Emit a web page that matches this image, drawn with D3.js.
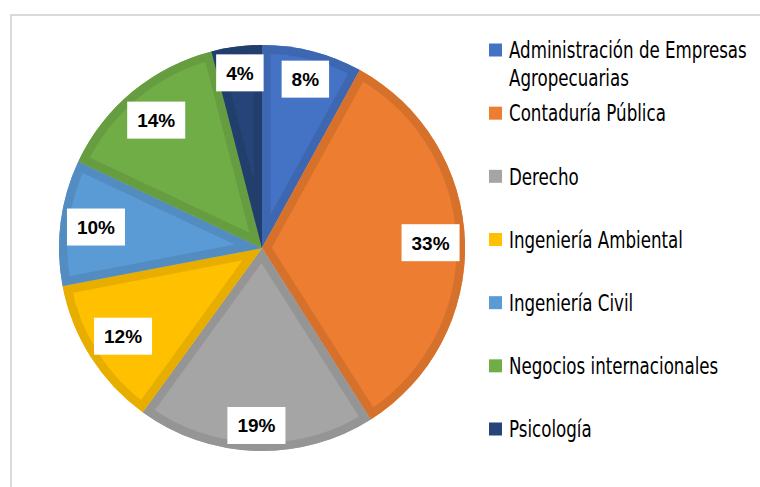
<!DOCTYPE html>
<html lang="es">
<head>
<meta charset="utf-8">
<title>Programas</title>
<script src="https://cdn.jsdelivr.net/npm/d3@7/dist/d3.min.js"></script>
<style>
  body { margin: 0; background: #fff; }
  svg { display: block; }
</style>
</head>
<body>
<div id="chart"></div>
<script>

// data
var categories = [
  "Administración de Empresas Agropecuarias",
  "Contaduría Pública",
  "Derecho",
  "Ingeniería Ambiental",
  "Ingeniería Civil",
  "Negocios internacionales",
  "Psicología"
];
var shares = [8, 33, 19, 12, 10, 14, 4];
var palette = ["#4472C4", "#ED7D31", "#A5A5A5", "#FFC000", "#5B9BD5", "#70AD47", "#264478"];

var width = 760;
var height = 487;
var cx = 262, cy = 248, radius = 203;

var svg = d3.select("#chart").append("svg")
        .attr("width", width)
        .attr("height", height);

// chart frame (runs off the right and bottom edges)
svg.append("rect")
        .attr("x", 11).attr("y", 15)
        .attr("width", 820).attr("height", 520)
        .attr("fill", "none")
        .attr("stroke", "#d9d9d9")
        .attr("stroke-width", 2);

var color = d3.scaleOrdinal().domain(categories).range(palette);

var pie = d3.pie().sort(null).value(function (d) { return d.value; });
var arc = d3.arc().innerRadius(0).outerRadius(radius);

var data = categories.map(function (c, i) { return {name: c, value: shares[i]}; });
var arcs = pie(data);

var defs = svg.append("defs");
var g = svg.append("g").attr("transform", "translate(" + cx + "," + cy + ")");

arcs.forEach(function (d, i) {
  defs.append("clipPath").attr("id", "clip" + i)
    .append("path").attr("d", arc(d));
});

var slice = g.selectAll(".slice").data(arcs).enter().append("g")
        .attr("class", "slice");

slice.append("path")
        .attr("d", arc)
        .attr("fill", function (d) { return color(d.data.name); });

// darker inner band along each slice edge
slice.append("path")
        .attr("d", arc)
        .attr("fill", "none")
        .attr("stroke", function (d) { return d3.color(color(d.data.name)).darker(0.28); })
        .attr("stroke-width", 17)
        .attr("stroke-linejoin", "miter")
        .attr("clip-path", function (d, i) { return "url(#clip" + i + ")"; });

// labels: white boxes placed near the outer edge (inside end)
var labelFont = 19;
var boxH = 37, padX = 10, edge = 199;

var lab = g.selectAll(".lab").data(arcs).enter().append("g").attr("class", "lab");

lab.append("rect").attr("fill", "#fff");
lab.append("text")
        .attr("text-anchor", "middle")
        .attr("dy", "0.36em")
        .attr("font-family", "'Liberation Sans', Arial, sans-serif")
        .attr("font-weight", "bold")
        .attr("font-size", labelFont)
        .attr("fill", "#000")
        .text(function (d) { return d.data.value + "%"; });

lab.each(function (d) {
  var grp = d3.select(this);
  var tw = grp.select("text").node().getComputedTextLength();
  var w = tw / 2 + padX, h = boxH / 2;
  var a = (d.startAngle + d.endAngle) / 2;
  var ux = Math.sin(a), uy = -Math.cos(a);
  var b = w * Math.abs(ux) + h * Math.abs(uy);
  var c = w * w + h * h - edge * edge;
  var r = -b + Math.sqrt(b * b - c);
  grp.attr("transform", "translate(" + (r * ux) + "," + (r * uy) + ")");
  grp.select("rect")
    .attr("x", -w).attr("y", -h)
    .attr("width", 2 * w).attr("height", boxH);
});

// legend
var legendY = d3.scalePoint().domain(categories).range([50, 429]);
var legendFont = 23;
var squareX = 489, squareSize = 13, textX = 509;
var lineH = 28;
var legendFamily = "'Liberation Sans Narrow', 'DejaVu Sans Condensed', 'Roboto Condensed', 'Liberation Sans', sans-serif";

var legend = svg.selectAll(".legend").data(categories).enter().append("g")
        .attr("class", "legend")
        .attr("transform", function (d) { return "translate(0," + legendY(d) + ")"; });

legend.append("rect")
        .attr("x", squareX)
        .attr("y", -squareSize / 2)
        .attr("width", squareSize)
        .attr("height", squareSize)
        .attr("fill", function (d) { return color(d); });

var legText = legend.append("g")
        .attr("transform", "translate(" + textX + ",0)")
        .append("text")
        .attr("font-family", legendFamily)
        .attr("font-size", legendFont)
        .attr("fill", "#000");

// horizontal squeeze so the condensed look matches the picture
var probe = svg.append("text")
        .attr("font-family", legendFamily)
        .attr("font-size", legendFont)
        .text("Administración de Empresas");
var sx = 238 / probe.node().getComputedTextLength();
probe.remove();

var maxW = (width - textX - 6) / sx;

legText.attr("transform", "scale(" + sx + ",1)")
  .each(function (d) {
    var t = d3.select(this);
    var words = d.split(" ");
    var lines = [], cur = [];
    words.forEach(function (wd) {
      var test = cur.concat([wd]).join(" ");
      t.text(test);
      if (cur.length && t.node().getComputedTextLength() > maxW) {
        lines.push(cur.join(" "));
        cur = [wd];
      } else {
        cur.push(wd);
      }
    });
    lines.push(cur.join(" "));
    t.text(null);
    lines.forEach(function (ln, k) {
      t.append("tspan").attr("x", 0).attr("dy", k === 0 ? "0.36em" : lineH).text(ln);
    });
  });

</script>
</body>
</html>
